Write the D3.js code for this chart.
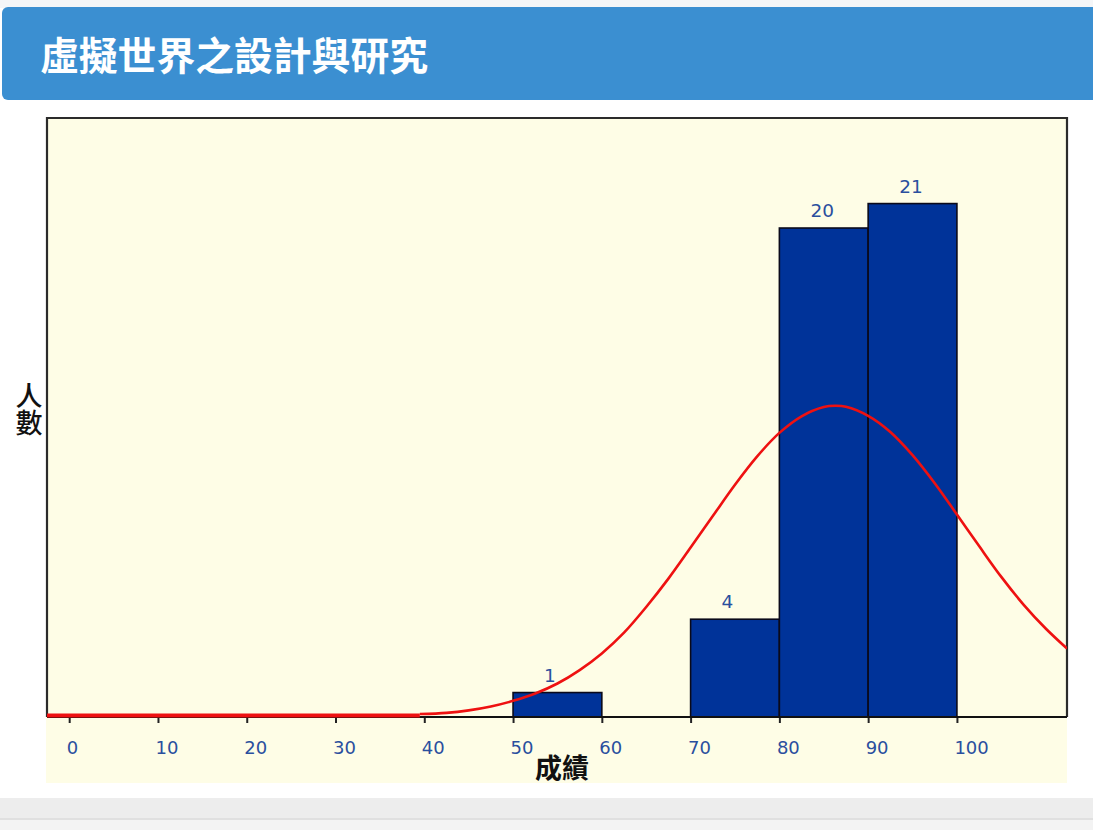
<!DOCTYPE html>
<html><head><meta charset="utf-8">
<script src="https://cdn.jsdelivr.net/npm/d3@7/dist/d3.min.js"></script>
<style>html,body{margin:0;padding:0;background:#fff;}svg{display:block;}</style>
</head><body>
<svg id="c" width="1093" height="830"></svg>
<script>
// ---- data ----
const title = "虛擬世界之設計與研究";
const xTitle = "成績";
const yTitle = "人數";
const binStarts = [0, 10, 20, 30, 40, 50, 60, 70, 80, 90];
const binCounts = [0, 0, 0, 0, 0, 1, 0, 4, 20, 21];
const xTicks = [0, 10, 20, 30, 40, 50, 60, 70, 80, 90, 100];
const curveX = [39.5, 42.5, 45, 47.5, 50, 52.5, 55, 57.5, 60, 62.5, 65, 67.5, 70, 72.5, 75, 77.5, 80, 82.5, 85, 86.3, 87.5, 90, 92.5, 95, 97.5, 100, 102.5, 105, 107.5, 110, 112.4];
const curveY = [0.12, 0.17, 0.27, 0.43, 0.66, 0.96, 1.37, 1.92, 2.6, 3.45, 4.5, 5.66, 6.93, 8.22, 9.5, 10.66, 11.62, 12.3, 12.68, 12.73, 12.69, 12.32, 11.66, 10.71, 9.56, 8.28, 6.99, 5.73, 4.6, 3.62, 2.8];
const baselineX = [-2.5, 39.5];

const svg = d3.select("#c");

// header
svg.append("rect").attr("x",0).attr("y",0).attr("width",1093).attr("height",8).attr("fill","#f4f6f8");
svg.append("rect").attr("x",2).attr("y",7).attr("width",1100).attr("height",93).attr("rx",6).attr("fill","#3b8fd1");
svg.append("text").attr("x",40).attr("y",70).attr("fill","#fff")
  .attr("font-family","'Noto Sans CJK TC','Noto Sans CJK SC',sans-serif").attr("font-weight","bold")
  .attr("font-size",38.8).text(title);

// bottom gray band
svg.append("rect").attr("x",0).attr("y",798).attr("width",1093).attr("height",32).attr("fill","#ededed");
svg.append("rect").attr("x",0).attr("y",818).attr("width",1093).attr("height",2).attr("fill","#e0e0e0");
svg.append("rect").attr("x",0).attr("y",820).attr("width",1093).attr("height",10).attr("fill","#f3f3f3");

// scales
const x = d3.scaleLinear().domain([-2.5, 112.4]).range([47, 1067]);
const y = d3.scaleLinear().domain([0, 24.5]).range([717, 118]);

// cream background (plot + axis label area)
svg.append("rect").attr("x",46).attr("y",118).attr("width",1021).attr("height",665).attr("fill","#fefde6");

const g = svg.append("g");
const clip = svg.append("clipPath").attr("id","pc");
clip.append("rect").attr("x",47).attr("y",110).attr("width",1020).attr("height",612);

// bars
const bins = binStarts.map((s,i)=>({x0:s, x1:s+10, n:binCounts[i]})).filter(d=>d.n>0);
g.selectAll("rect.bar").data(bins).join("rect").attr("class","bar")
  .attr("x",d=>x(d.x0)).attr("width",d=>x(d.x1)-x(d.x0))
  .attr("y",d=>y(d.n)).attr("height",d=>y(0)-y(d.n))
  .attr("fill","#003399").attr("stroke","#0a0a1a").attr("stroke-width",1.6);

// value labels
g.selectAll("text.val").data(bins).join("text").attr("class","val")
  .attr("x",d=>x(d.x0)+31).attr("y",d=>y(d.n)-11)
  .attr("text-anchor","start").attr("fill","#2a4f9e")
  .attr("font-family","'DejaVu Sans',Verdana,sans-serif").attr("font-size",18.5)
  .text(d=>d.n);

// axis
const ax = d3.axisBottom(x).tickValues(xTicks).tickSize(6).tickPadding(10).tickFormat(d3.format("d"));
const axg = svg.append("g").attr("transform","translate(0,717)").call(ax);
axg.select(".domain").remove();
axg.selectAll(".tick line").attr("stroke","#222").attr("stroke-width",2);
axg.selectAll(".tick text").attr("fill","#2a4f9e").attr("font-size",18)
  .attr("text-anchor","start").attr("x",-3)
  .attr("font-family","'DejaVu Sans',Verdana,sans-serif").attr("dy","1.15em");

// frame
svg.append("path").attr("d",`M47,717V118H1067V717`).attr("fill","none").attr("stroke","#2b2b2b").attr("stroke-width",2.2);
svg.append("line").attr("x1",47).attr("x2",1067).attr("y1",717).attr("y2",717).attr("stroke","#111").attr("stroke-width",2);

// normal curve
const line = d3.line().x(d=>x(d[0])).y(d=>y(d[1])).curve(d3.curveCatmullRom);
svg.append("path").datum(curveX.map((v,i)=>[v,curveY[i]]))
  .attr("clip-path","url(#pc)")
  .attr("d",line).attr("fill","none").attr("stroke","#ee1111").attr("stroke-width",2.6);
svg.append("line").attr("x1",x(baselineX[0])).attr("x2",x(baselineX[1]))
  .attr("y1",y(0)-1.5).attr("y2",y(0)-1.5).attr("stroke","#ee1111").attr("stroke-width",4);

// axis titles
svg.append("text").attr("x",562).attr("y",778).attr("text-anchor","middle")
  .attr("font-family","'Noto Sans CJK TC',sans-serif").attr("font-weight","bold").attr("font-size",27)
  .attr("fill","#111").text(xTitle);
svg.append("text").attr("x",29).attr("y",382)
  .attr("font-family","'Noto Sans CJK TC',sans-serif").attr("font-weight","500")
  .attr("font-size",27).attr("fill","#111")
  .style("writing-mode","vertical-rl").style("text-orientation","upright")
  .text(yTitle);
</script>
</body></html>
